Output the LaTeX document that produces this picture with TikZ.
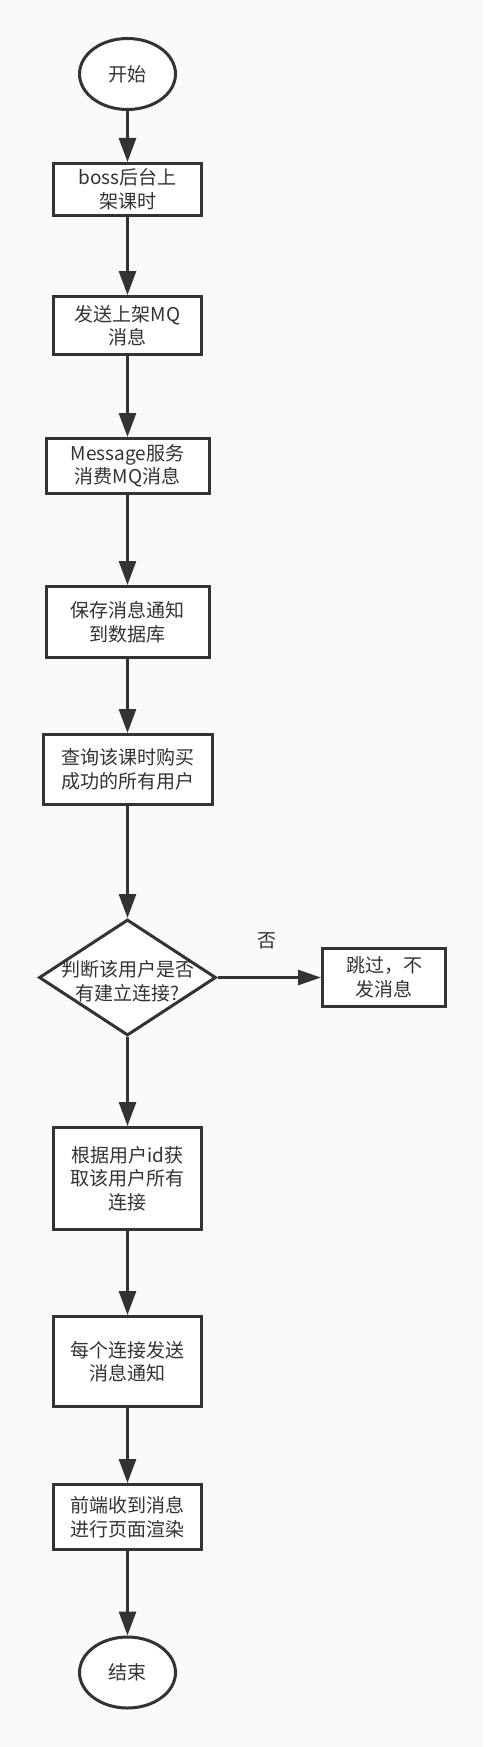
\documentclass[tikz,border=0pt]{standalone}
\usepackage{fontspec}
\setmainfont{Noto Sans CJK SC}
\usetikzlibrary{shapes.geometric,arrows.meta}
\definecolor{ink}{HTML}{333333}
\definecolor{bg}{HTML}{FAFAFA}
\begin{document}
\begin{tikzpicture}[x=1pt,y=-1pt,
  every node/.style={font=\fontsize{19}{23.5}\selectfont, text=ink},
  base/.style={draw=ink, line width=3pt, fill=white, inner sep=0pt, align=center},
  box/.style={base, rectangle, minimum width=148pt},
  term/.style={base, ellipse, minimum width=96pt, minimum height=71pt},
  decision/.style={base, diamond, minimum width=177pt, minimum height=116pt},
  txt/.style={align=center, inner sep=0pt},
  flow/.style={draw=ink, line width=3pt, -{Triangle[length=24pt,width=17pt]}},
  flowside/.style={draw=ink, line width=2.6pt, -{Triangle[length=23pt,width=15pt]}}
]
\fill[bg] (0,0) rectangle (483,1747);
\useasboundingbox (0,0) rectangle (483,1747);

\node[term] (start) at (127.5,74) {开始};
\node[box, minimum height=52pt] (b1) at (127.5,189.5) {boss后台上\\架课时};
\node[box, minimum height=58pt] (b2) at (127.5,325.5) {发送上架MQ\\消息};
\node[box, minimum width=163pt, minimum height=55pt] (b3) at (127.5,466) {Message服务\\消费MQ消息};
\node[box, minimum width=163pt, minimum height=71pt] (b4) at (127.5,622) {保存消息通知\\到数据库};
\node[box, minimum width=169pt, minimum height=70pt] (b5) at (127.5,769.5) {查询该课时购买\\成功的所有用户};
\node[decision] (dia) at (127.5,977.5) {};
\node[txt] (diatext) at (127.5,981) {判断该用户是否\\有建立连接?};
\node[box, minimum width=123pt, minimum height=58pt] (skip) at (384,977.5) {跳过，不\\发消息};
\node[box, minimum height=102pt] (b6) at (127.5,1178.5) {根据用户id获\\取该用户所有\\连接};
\node[box, minimum height=90pt] (b7) at (127.5,1361.5) {每个连接发送\\消息通知};
\node[box, minimum height=65pt] (b8) at (127.5,1517) {前端收到消息\\进行页面渲染};
\node[term] (end) at (127.5,1672.5) {结束};
\node[txt] (no) at (267,941) {否};

\draw[flow] (start) -- (b1);
\draw[flow] (b1) -- (b2);
\draw[flow] (b2) -- (b3);
\draw[flow] (b3) -- (b4);
\draw[flow] (b4) -- (b5);
\draw[flow] (b5) -- (dia);
\draw[flowside] (dia) -- (skip);
\draw[flow] (dia) -- (b6);
\draw[flow] (b6) -- (b7);
\draw[flow] (b7) -- (b8);
\draw[flow] (b8) -- (end);
\end{tikzpicture}
\end{document}
